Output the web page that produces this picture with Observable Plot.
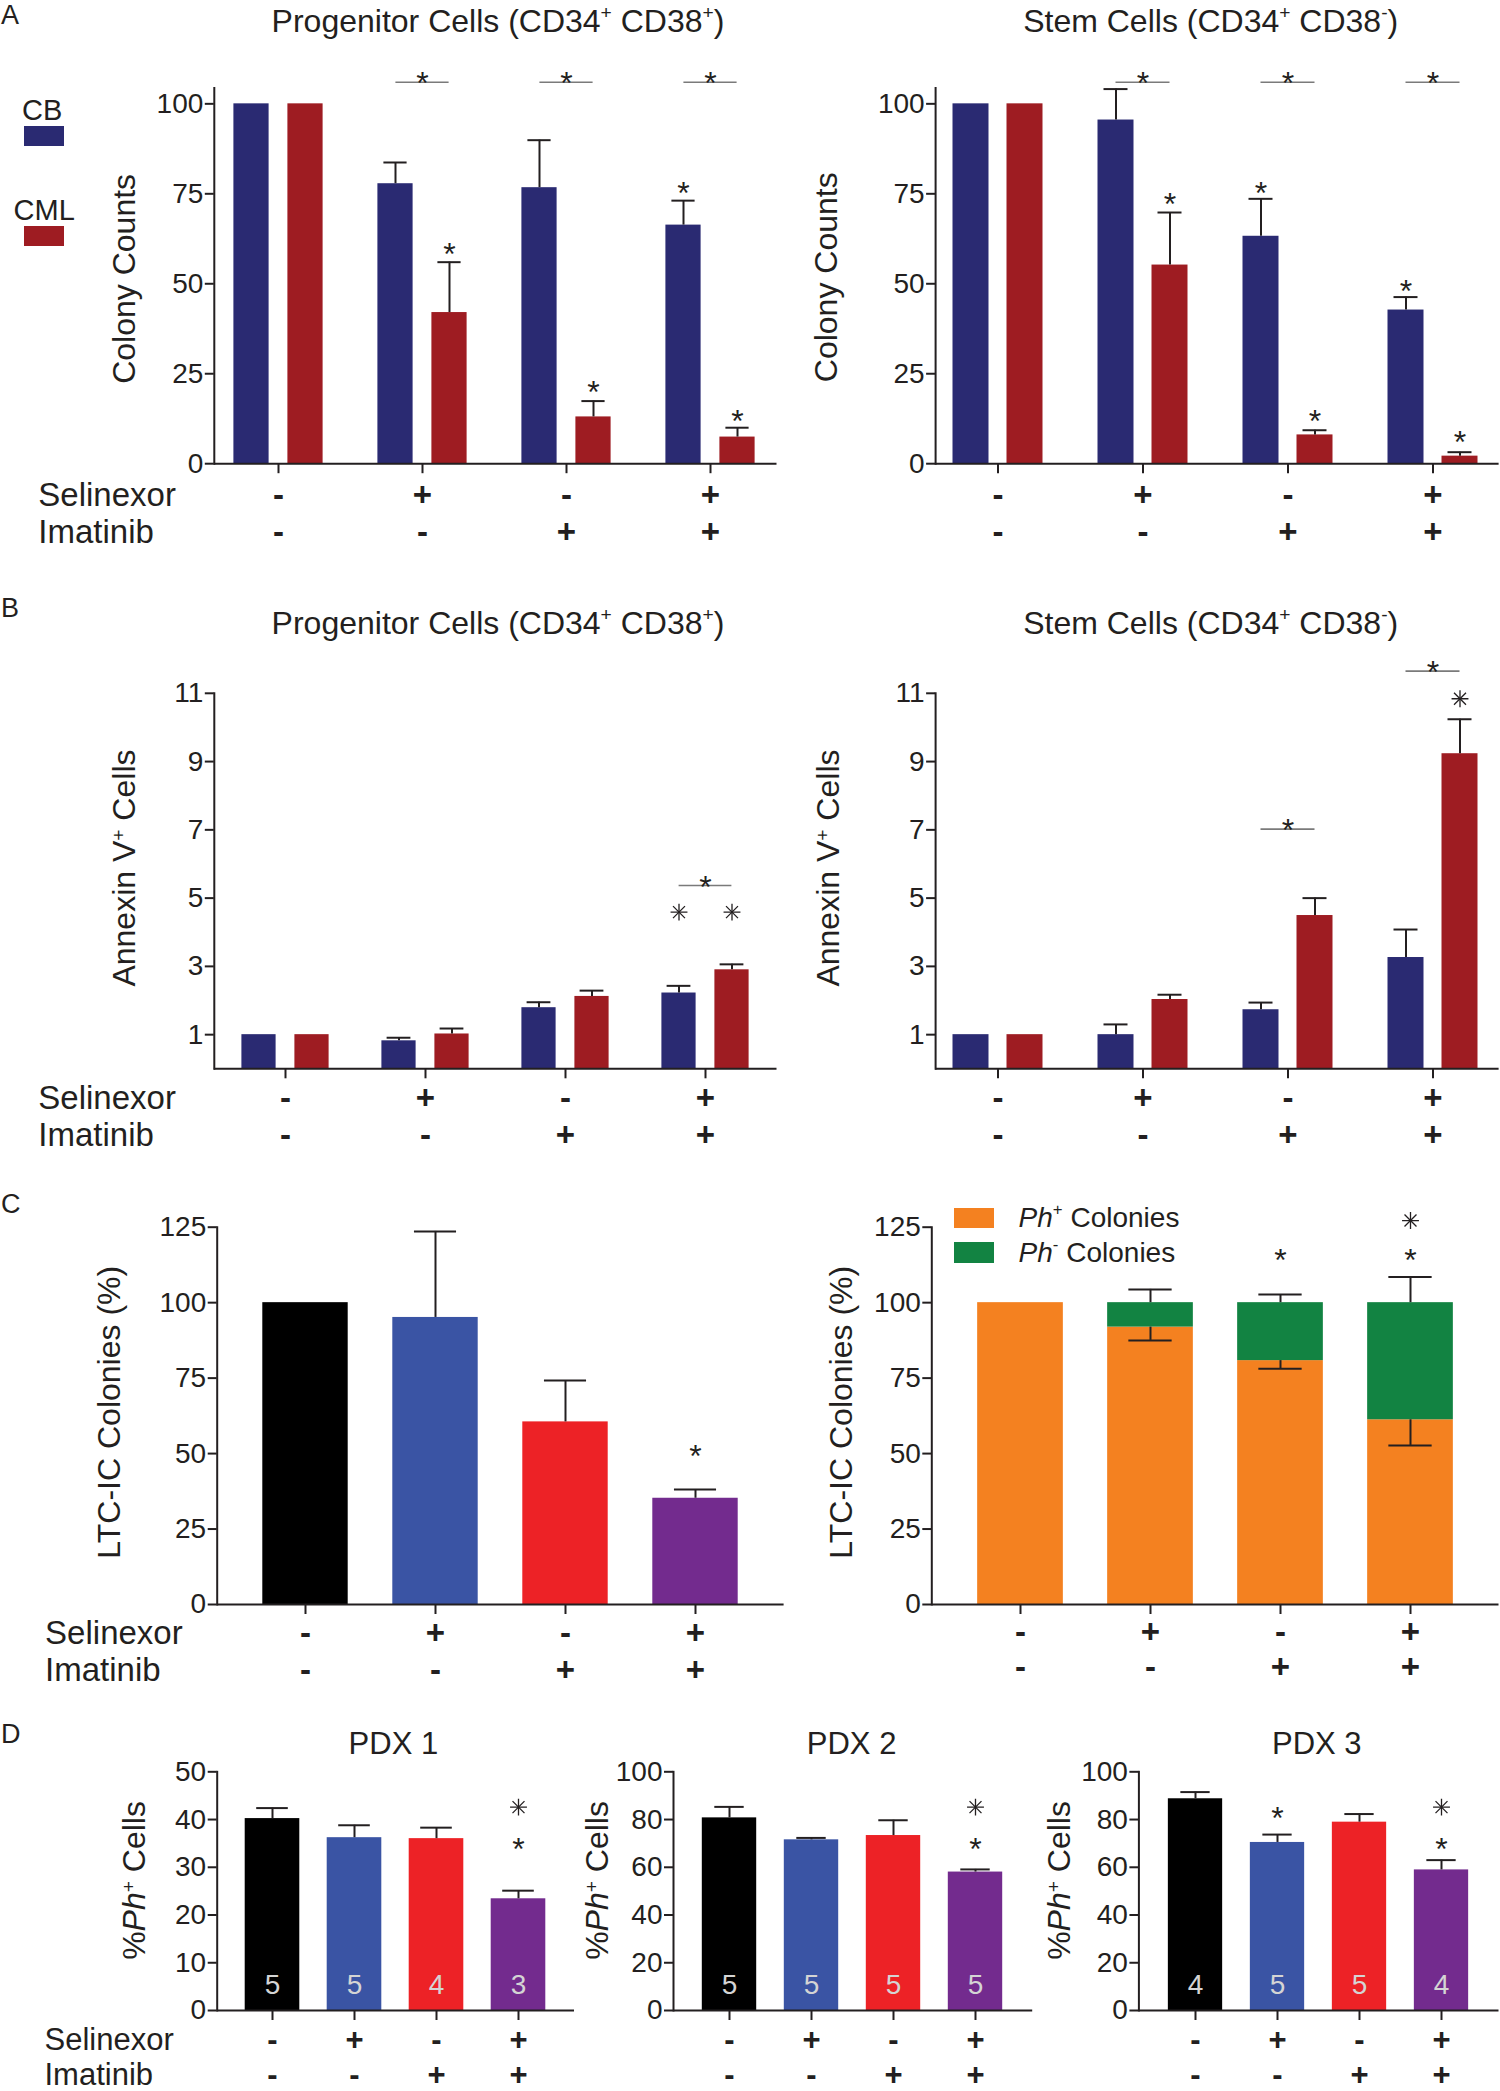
<!DOCTYPE html>
<html>
<head>
<meta charset="utf-8">
<script src="https://cdn.jsdelivr.net/npm/d3@7"></script>
<script src="https://cdn.jsdelivr.net/npm/@observablehq/plot@0.6"></script>
<style>
  body { margin: 0; background: #fff; }
  #fig { position: relative; width: 1500px; height: 2091px; overflow: hidden; background: #fff;
         font-family: "Liberation Sans", Arial, Helvetica, sans-serif; color: #231f20; }
  .abs { position: absolute; white-space: nowrap; line-height: 1; }
  .abs sup { font-size: 0.6em; vertical-align: 0.7em; line-height: 0; }
  .box { position: absolute; }
</style>
</head>
<body>
<div id="fig"></div>
<script>
// ---------------- data ----------------
const groups = ["ctrl", "sel", "ima", "combo"];
const selinexor = ["-", "+", "-", "+"];
const imatinib = ["-", "-", "+", "+"];
const series = ["CB", "CML"];
const seriesColors = ["#2a2a72", "#9e1c22"];
const treatColors = ["#000000", "#3a54a4", "#ed2226", "#732b8e"];
const phTypes = ["Ph+", "Ph-"];
const phColors = ["#f48120", "#128342"];

// A: colony counts
const aProgCB = [100, 77.8, 76.7, 66.3];
const aProgCBsem = [0, 5.9, 13.2, 6.8];
const aProgCML = [100, 42.0, 13.0, 7.4];
const aProgCMLsem = [0, 14.0, 4.4, 2.6];
const aProgStarCB = [null, null, null, 77.1];
const aProgStarCML = [null, 60.2, 22.0, 13.8];
const aProgBracket = [null, 106, 106, 106];

const aStemCB = [100, 95.5, 63.2, 42.7];
const aStemCBsem = [0, 8.6, 10.4, 3.6];
const aStemCML = [100, 55.2, 8.0, 2.1];
const aStemCMLsem = [0, 14.6, 1.3, 1.1];
const aStemStarCB = [null, null, 77.3, 50.0];
const aStemStarCML = [null, 74.3, 13.8, 8.1];
const aStemBracket = [null, 106, 106, 106];

// B: Annexin V+ cells
const bProgCB = [1.0, 0.82, 1.79, 2.22];
const bProgCBsem = [0, 0.09, 0.16, 0.21];
const bProgCML = [1.0, 1.02, 2.12, 2.90];
const bProgCMLsem = [0, 0.16, 0.17, 0.16];
const bProgAsterCB = [null, null, null, 4.59];
const bProgAsterCML = [null, null, null, 4.59];
const bProgBracket = [null, null, null, 5.37];

const bStemCB = [1.0, 1.0, 1.73, 3.26];
const bStemCBsem = [0, 0.30, 0.21, 0.82];
const bStemCML = [1.0, 2.03, 4.49, 9.23];
const bStemCMLsem = [0, 0.14, 0.51, 1.01];
const bStemAsterCML = [null, null, null, 10.84];
const bStemBracket = [null, null, 7.02, 11.65];

// C: LTC-IC colonies
const cLtc = [100, 95.1, 60.5, 35.2];
const cLtcSem = [0, 28.5, 13.7, 2.9];
const cLtcStar = [null, null, null, 51.6];

const cPhPos = [100, 91.9, 80.8, 61.2];
const cPhNeg = [0, 8.1, 19.2, 38.8];
const cPhSem = [0, 4.4, 2.7, 8.5];
const cPhStar = [null, null, 116.7, 116.7];
const cPhAster = [null, null, null, 127.2];

// D: PDX %Ph+ cells
const pdxNames = ["PDX 1", "PDX 2", "PDX 3"];
const d1 = [40.2, 36.2, 36.0, 23.4];
const d1sem = [2.2, 2.6, 2.3, 1.7];
const d1n = [5, 5, 4, 3];
const d1star = [null, null, null, 35.3];
const d1aster = [null, null, null, 42.6];
const d2 = [80.7, 71.5, 73.3, 58.0];
const d2sem = [4.6, 0.8, 6.4, 1.1];
const d2n = [5, 5, 5, 5];
const d2star = [null, null, null, 70.5];
const d2aster = [null, null, null, 85.2];
const d3 = [88.7, 70.4, 78.9, 58.9];
const d3sem = [2.8, 3.3, 3.4, 4.1];
const d3n = [4, 5, 5, 4];
const d3star = [null, 83.8, null, 70.5];
const d3aster = [null, null, null, 85.2];

const ticksA = [0, 25, 50, 75, 100];
const ticksB = [1, 3, 5, 7, 9, 11];
const ticksC = [0, 25, 50, 75, 100, 125];
const ticksD1 = [0, 10, 20, 30, 40, 50];
const ticksD23 = [0, 20, 40, 60, 80, 100];

// ---------------- layout (page pixels) ----------------
const L_aProg = {left: 0, top: 40, width: 790, height: 520, axisX: 213.8, xEnd: 776.5, yTop: 87.5, yZero: 463.2, yMax: 104.4, c0: 277, step: 144.8, barW: 36, off: 27, capW: 24, labelOffset: 102, labelDy: 3, rowX: 37.8, selDy: 31.4, imaDy: 68.8, rowFont: 33};
const L_aStem = {left: 780, top: 40, width: 720, height: 520, axisX: 935.1, xEnd: 1498.6, yTop: 87.5, yZero: 463.2, yMax: 104.4, c0: 997.4, step: 145, barW: 36, off: 27, capW: 24, labelOffset: 121, labelDy: 1.4, selDy: 31.4, imaDy: 68.8, rowFont: 33};
const L_bProg = {left: 0, top: 640, width: 790, height: 520, axisX: 213.8, xEnd: 776.5, yTop: 692.8, yZero: 1068.3, yMax: 11, c0: 284.5, step: 140.2, barW: 34.4, off: 26.5, capW: 24, labelOffset: 102, labelDy: -13, rowX: 37.8, selDy: 29.6, imaDy: 66.6, rowFont: 33};
const L_bStem = {left: 780, top: 640, width: 720, height: 520, axisX: 935.1, xEnd: 1498.6, yTop: 692.8, yZero: 1068.3, yMax: 11, c0: 997.4, step: 145, barW: 36, off: 27, capW: 24, labelOffset: 119.4, labelDy: -13, selDy: 29.6, imaDy: 66.6, rowFont: 33};
const L_cLtc = {left: 0, top: 1190, width: 800, height: 510, axisX: 216.7, xEnd: 783.6, yTop: 1226.7, yZero: 1604, yMax: 125, c0: 303.9, step: 130.9, barW: 86.3, capW: 43, labelOffset: 119.7, labelDy: -3.6, rowX: 44.6, selDy: 29.3, imaDy: 66, rowFont: 33};
const L_cPh = {left: 780, top: 1190, width: 720, height: 510, axisX: 931.3, xEnd: 1498.5, yTop: 1226.7, yZero: 1604, yMax: 125, c0: 1019, step: 130.7, barW: 86.4, capW: 44, labelOffset: 102.9, labelDy: -3.6, selDy: 27.5, imaDy: 63, rowFont: 33};
const L_d1 = {left: 0, top: 1740, width: 600, height: 351, axisX: 216.7, xEnd: 574, yTop: 1771.3, yZero: 2010, yMax: 50, c0: 271.7, step: 82.4, barW: 55, capW: 32, labelOffset: 94.7, labelDy: -10.7, rowX: 44, selDy: 29.5, imaDy: 64.3, rowFont: 31};
const L_d2 = {left: 560, top: 1740, width: 480, height: 351, axisX: 673, xEnd: 1032.2, yTop: 1771.3, yZero: 2010, yMax: 100, c0: 728, step: 82.6, barW: 55, capW: 30, labelOffset: 88.5, labelDy: -10.7, selDy: 29.5, imaDy: 64.3, rowFont: 31};
const L_d3 = {left: 1030, top: 1740, width: 470, height: 351, axisX: 1138.4, xEnd: 1498.5, yTop: 1771.3, yZero: 2010, yMax: 100, c0: 1193.9, step: 82.7, barW: 55, capW: 30, labelOffset: 92, labelDy: -10.7, selDy: 29.5, imaDy: 64.3, rowFont: 31};

const INK = "#231f20";
const GRAY = "#7a7a7a";
const FONT = "'Liberation Sans', Arial, Helvetica, sans-serif";
const fig = document.getElementById("fig");

// ---------------- helpers ----------------
function plotPanel(L, marks, color, richLabels = []) {
  const svg = Plot.plot({
    width: L.width,
    height: L.height,
    marginLeft: L.axisX - L.left,
    marginRight: L.left + L.width - L.xEnd,
    marginTop: L.yTop - L.top,
    marginBottom: L.top + L.height - L.yZero,
    style: {fontFamily: FONT, fontSize: "28px", color: INK, background: "transparent", overflow: "visible"},
    x: {type: "band", domain: groups, range: [L.c0 - L.step / 2 - L.left, L.c0 + 3.5 * L.step - L.left], padding: 0},
    y: {domain: [0, L.yMax]},
    color,
    marks
  });
  svg.style.position = "absolute";
  svg.style.left = L.left + "px";
  svg.style.top = L.top + "px";
  svg.style.maxWidth = "none";
  svg.style.background = "transparent";
  for (const [plain, rich] of richLabels) {
    svg.querySelectorAll("text").forEach(t => { if (t.textContent === plain) t.innerHTML = rich; });
  }
  fig.appendChild(svg);
  return svg;
}

function frameMarks(L, yTicks, ylabel) {
  const gi = groups.map((g, i) => ({g, sel: selinexor[i], ima: imatinib[i]}));
  const fs = L.rowFont;
  const m = [
    Plot.ruleY([0], {stroke: INK, strokeWidth: 2}),
    Plot.frame({anchor: "left", stroke: INK, strokeWidth: 2}),
    Plot.axisY({ticks: yTicks, tickSize: 9, tickPadding: 2, fontSize: 28, stroke: INK, strokeWidth: 2, label: null}),
    Plot.axisX({tickSize: 10, tickFormat: () => "", stroke: INK, strokeWidth: 2, label: null}),
    Plot.text(gi, {x: "g", text: "sel", frameAnchor: "bottom", dy: L.selDy, lineAnchor: "middle", fontSize: fs, fontWeight: "bold"}),
    Plot.text(gi, {x: "g", text: "ima", frameAnchor: "bottom", dy: L.imaDy, lineAnchor: "middle", fontSize: fs, fontWeight: "bold"}),
    Plot.text([ylabel], {text: d => d, frameAnchor: "left", rotate: -90, dx: -L.labelOffset, dy: L.labelDy, textAnchor: "middle", lineAnchor: "top", fontSize: 32})
  ];
  if (L.rowX != null) {
    m.push(
      Plot.text(["Selinexor"], {text: d => d, frameAnchor: "bottom-left", dx: L.rowX - L.axisX, dy: L.selDy, textAnchor: "start", lineAnchor: "middle", fontSize: fs}),
      Plot.text(["Imatinib"], {text: d => d, frameAnchor: "bottom-left", dx: L.rowX - L.axisX, dy: L.imaDy, textAnchor: "start", lineAnchor: "middle", fontSize: fs})
    );
  }
  return m;
}

function asterMarks(data, yKey, off = 0) {
  return ["plus", "times"].map(sym =>
    Plot.dot(data, {x: "g", y: yKey, symbol: sym, r: 5.5, stroke: INK, strokeWidth: 1.3, fill: "none", dx: off}));
}

function errMarks(data, L, base, top, off = 0) {
  const half = L.step / 2, capIn = half - L.capW / 2;
  return [
    Plot.ruleX(data, {x: "g", y1: base, y2: top, dx: off, stroke: INK, strokeWidth: 2}),
    Plot.tickY(data, {x: "g", y: top, dx: off, insetLeft: capIn, insetRight: capIn, stroke: INK, strokeWidth: 2})
  ];
}

function starMarks(data, yKey, off = 0, dy = 8) {
  return [Plot.text(data, {x: "g", y: yKey, text: () => "*", dx: off, dy, lineAnchor: "middle", fontSize: 32})];
}

function groupedPanel(L, d, yTicks, ylabel, rich) {
  const rows = [];
  groups.forEach((g, i) => {
    rows.push({g, s: "CB", v: d.cb[i], e: d.cbSem[i], star: d.starCB ? d.starCB[i] : null, aster: d.asterCB ? d.asterCB[i] : null});
    rows.push({g, s: "CML", v: d.cml[i], e: d.cmlSem[i], star: d.starCML ? d.starCML[i] : null, aster: d.asterCML ? d.asterCML[i] : null});
  });
  const br = groups.map((g, i) => ({g, y: d.bracket[i]})).filter(r => r.y != null);
  const half = L.step / 2;
  const marks = [];
  series.forEach((s, k) => {
    const off = (k === 0 ? -1 : 1) * L.off;
    const mine = rows.filter(r => r.s === s);
    marks.push(Plot.barY(mine, {x: "g", y: "v", fill: "s", insetLeft: half + off - L.barW / 2, insetRight: half - off - L.barW / 2}));
    marks.push(...errMarks(mine.filter(r => r.e > 0), L, "v", r => r.v + r.e, off));
    marks.push(...starMarks(mine.filter(r => r.star != null), "star", off));
    marks.push(...asterMarks(mine.filter(r => r.aster != null), "aster", off));
  });
  marks.push(Plot.tickY(br, {x: "g", y: "y", insetLeft: half - L.off, insetRight: half - L.off, stroke: GRAY, strokeWidth: 1.6}));
  marks.push(...starMarks(br, "y", 0, 2));
  marks.push(...frameMarks(L, yTicks, ylabel));
  return plotPanel(L, marks, {domain: series, range: seriesColors}, rich);
}

function singlePanel(L, v, sem, stars, asters, ns, yTicks, ylabel, rich) {
  const rows = groups.map((g, i) => ({g, v: v[i], e: sem[i], star: stars ? stars[i] : null, aster: asters ? asters[i] : null, n: ns ? ns[i] : null}));
  const inset = L.step / 2 - L.barW / 2;
  const marks = [
    Plot.barY(rows, {x: "g", y: "v", fill: "g", insetLeft: inset, insetRight: inset}),
    ...errMarks(rows.filter(r => r.e > 0), L, "v", r => r.v + r.e),
    ...starMarks(rows.filter(r => r.star != null), "star"),
    ...asterMarks(rows.filter(r => r.aster != null), "aster")
  ];
  if (ns) marks.push(Plot.text(rows, {x: "g", text: d => String(d.n), frameAnchor: "bottom", dy: -25, lineAnchor: "middle", fontSize: 28, fill: "#d4d4d4"}));
  marks.push(...frameMarks(L, yTicks, ylabel));
  return plotPanel(L, marks, {domain: groups, range: treatColors}, rich);
}

function stackedPanel(L, yTicks, ylabel) {
  const long = [];
  groups.forEach((g, i) => {
    long.push({g, type: phTypes[0], v: cPhPos[i]});
    long.push({g, type: phTypes[1], v: cPhNeg[i]});
  });
  const rows = groups.map((g, i) => ({g, pos: cPhPos[i], tot: cPhPos[i] + cPhNeg[i], e: cPhSem[i], star: cPhStar[i], aster: cPhAster[i]}));
  const withErr = rows.filter(r => r.e > 0);
  const inset = L.step / 2 - L.barW / 2;
  const marks = [
    Plot.barY(long, {x: "g", y: "v", fill: "type", insetLeft: inset, insetRight: inset}),
    ...errMarks(withErr, L, "pos", r => r.pos - r.e),
    ...errMarks(withErr, L, "tot", r => r.tot + r.e),
    ...starMarks(rows.filter(r => r.star != null), "star"),
    ...asterMarks(rows.filter(r => r.aster != null), "aster"),
    ...frameMarks(L, yTicks, ylabel)
  ];
  return plotPanel(L, marks, {domain: phTypes, range: phColors});
}

function addText(html, x, cy, size, anchor = "start", extra = {}) {
  const el = document.createElement("div");
  el.className = "abs";
  el.innerHTML = html;
  el.style.fontSize = size + "px";
  el.style.left = x + "px";
  el.style.top = (cy - 0.49 * size) + "px";
  if (anchor === "middle") el.style.transform = "translateX(-50%)";
  Object.assign(el.style, extra);
  fig.appendChild(el);
}
function addBox(x, y, w, h, color) {
  const el = document.createElement("div");
  el.className = "box";
  Object.assign(el.style, {left: x + "px", top: y + "px", width: w + "px", height: h + "px", background: color});
  fig.appendChild(el);
}

// ---------------- build ----------------
const supPlus = '<tspan baseline-shift="super" style="font-size:0.6em">+</tspan>';
const annexinRich = [["Annexin V+ Cells", "Annexin V" + supPlus + " Cells"]];
const phRich = [["%Ph+ Cells", '%<tspan font-style="italic">Ph</tspan>' + supPlus + " Cells"]];

groupedPanel(L_aProg, {cb: aProgCB, cbSem: aProgCBsem, cml: aProgCML, cmlSem: aProgCMLsem, starCB: aProgStarCB, starCML: aProgStarCML, bracket: aProgBracket}, ticksA, "Colony Counts");
groupedPanel(L_aStem, {cb: aStemCB, cbSem: aStemCBsem, cml: aStemCML, cmlSem: aStemCMLsem, starCB: aStemStarCB, starCML: aStemStarCML, bracket: aStemBracket}, ticksA, "Colony Counts");
groupedPanel(L_bProg, {cb: bProgCB, cbSem: bProgCBsem, cml: bProgCML, cmlSem: bProgCMLsem, asterCB: bProgAsterCB, asterCML: bProgAsterCML, bracket: bProgBracket}, ticksB, "Annexin V+ Cells", annexinRich);
groupedPanel(L_bStem, {cb: bStemCB, cbSem: bStemCBsem, cml: bStemCML, cmlSem: bStemCMLsem, asterCML: bStemAsterCML, bracket: bStemBracket}, ticksB, "Annexin V+ Cells", annexinRich);
singlePanel(L_cLtc, cLtc, cLtcSem, cLtcStar, null, null, ticksC, "LTC-IC Colonies (%)");
stackedPanel(L_cPh, ticksC, "LTC-IC Colonies (%)");
singlePanel(L_d1, d1, d1sem, d1star, d1aster, d1n, ticksD1, "%Ph+ Cells", phRich);
singlePanel(L_d2, d2, d2sem, d2star, d2aster, d2n, ticksD23, "%Ph+ Cells", phRich);
singlePanel(L_d3, d3, d3sem, d3star, d3aster, d3n, ticksD23, "%Ph+ Cells", phRich);

// panel letters
addText("A", 1, 15, 27);
addText("B", 1, 608.7, 27);
addText("C", 1, 1204, 27);
addText("D", 1, 1734, 27);

// titles
const progTitle = "Progenitor Cells (CD34<sup>+</sup> CD38<sup>+</sup>)";
const stemTitle = "Stem Cells (CD34<sup>+</sup> CD38<sup>-</sup>)";
addText(progTitle, 498, 21, 32, "middle");
addText(stemTitle, 1210.7, 21, 32, "middle");
addText(progTitle, 498, 622.5, 32, "middle");
addText(stemTitle, 1210.7, 622.5, 32, "middle");
addText(pdxNames[0], 393.4, 1743.3, 31, "middle");
addText(pdxNames[1], 851.6, 1743.3, 31, "middle");
addText(pdxNames[2], 1316.8, 1743.3, 31, "middle");

// legend A
addText(series[0], 22, 110.7, 29);
addBox(24, 125.7, 40, 20.7, seriesColors[0]);
addText(series[1], 13.6, 210.7, 29);
addBox(24, 225.7, 40, 20.7, seriesColors[1]);

// legend C
addBox(954.4, 1207.7, 40, 20.5, phColors[0]);
addBox(954.4, 1242, 40, 20.5, phColors[1]);
addText("<i>Ph</i><sup>+</sup> Colonies", 1018.6, 1217.7, 28);
addText("<i>Ph</i><sup>-</sup> Colonies", 1018.6, 1252.7, 28);
</script>
</body>
</html>
